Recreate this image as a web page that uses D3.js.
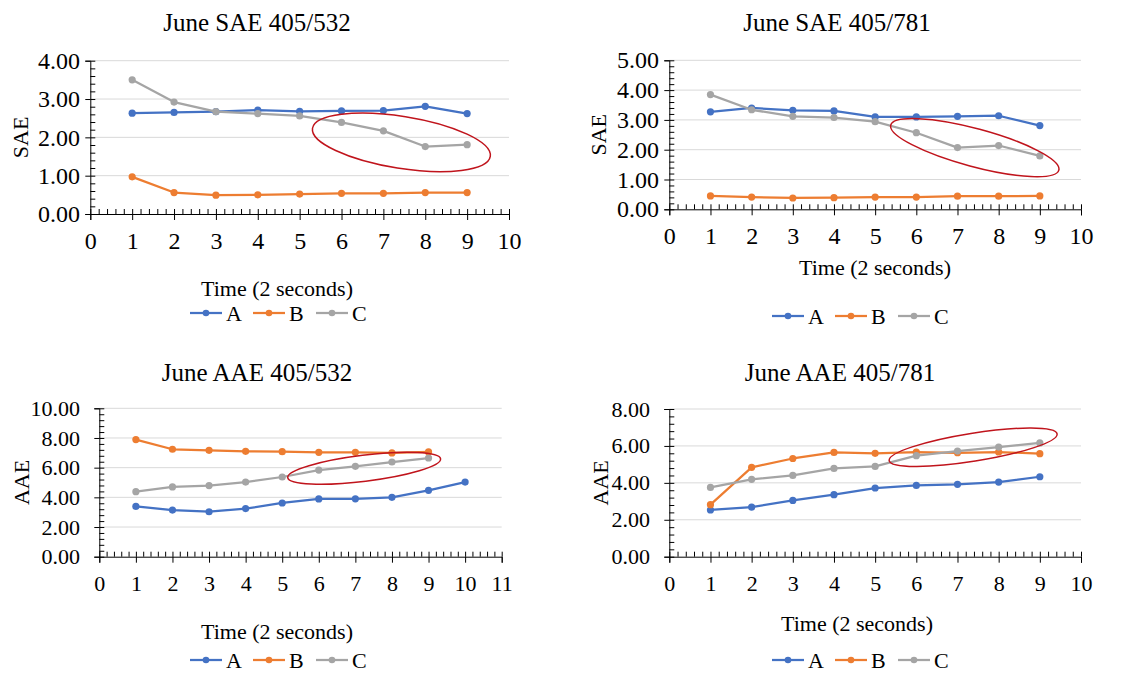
<!DOCTYPE html>
<html><head><meta charset="utf-8">
<script src="https://cdn.jsdelivr.net/npm/d3@7"></script>
<style>
html,body{margin:0;padding:0;background:#fff;}
svg{display:block;}
svg text{font-family:"Liberation Serif","Times New Roman",serif !important;fill:#000;}
</style></head>
<body>
<svg id="chart" width="1131" height="673"></svg>
<script>
// ---------- DATA ----------
const timeSteps = [1, 2, 3, 4, 5, 6, 7, 8, 9];
const timeSteps10 = [1, 2, 3, 4, 5, 6, 7, 8, 9, 10];
const seriesNames = ["A", "B", "C"];
const seriesColors = ["#4472C4", "#ED7D31", "#A5A5A5"];

const sae532A = [2.63, 2.65, 2.67, 2.71, 2.68, 2.69, 2.70, 2.81, 2.62];
const sae532B = [0.97, 0.56, 0.49, 0.50, 0.52, 0.54, 0.54, 0.56, 0.56];
const sae532C = [3.50, 2.92, 2.67, 2.62, 2.56, 2.39, 2.17, 1.76, 1.81];

const sae781A = [3.27, 3.40, 3.32, 3.30, 3.10, 3.10, 3.12, 3.14, 2.81];
const sae781B = [0.45, 0.41, 0.38, 0.39, 0.41, 0.41, 0.44, 0.44, 0.45];
const sae781C = [3.85, 3.34, 3.12, 3.08, 2.94, 2.57, 2.07, 2.14, 1.79];

const aae532A = [3.39, 3.14, 3.03, 3.24, 3.62, 3.89, 3.90, 4.00, 4.47, 5.03];
const aae532B = [7.89, 7.24, 7.17, 7.10, 7.08, 7.03, 7.03, 6.99, 7.06];
const aae532C = [4.38, 4.70, 4.79, 5.03, 5.37, 5.84, 6.09, 6.38, 6.65];

const aae781A = [2.53, 2.69, 3.05, 3.36, 3.72, 3.86, 3.92, 4.04, 4.33];
const aae781B = [2.82, 4.84, 5.32, 5.65, 5.60, 5.67, 5.63, 5.67, 5.58];
const aae781C = [3.75, 4.19, 4.40, 4.78, 4.89, 5.47, 5.72, 5.94, 6.16];

const chartTitles = ["June SAE 405/532", "June SAE 405/781", "June AAE 405/532", "June AAE 405/781"];
const yTitles = ["SAE", "SAE", "AAE", "AAE"];
const xTitle = "Time (2 seconds)";
const xMaxes = [10, 10, 11, 10];
const yMaxes = [4, 5, 10, 8];
const yMajorSteps = [1, 1, 2, 2];
// highlight ellipses: centre in data units
const ellipseCenters = [[7.43, 1.87], [7.42, 2.07], [7.24, 5.96], [7.38, 5.93]];

// ---------- LAYOUT ----------
const FONT = '"Liberation Serif","Times New Roman",serif';
const layouts = [
  {left: 90.3, right: 509, top: 60.7, bottom: 214, tickFont: 24, yLabRight: 80, titleX: 257, titleY: 31,
   xTitleX: 277, xTitleY: 288, yTitleX: 20, legX: 190, legY: 313, ell: {rx: 90, ry: 26, rot: 9}},
  {left: 669.3, right: 1081, top: 60.3, bottom: 209.3, tickFont: 24, yLabRight: 659, titleX: 837, titleY: 31,
   xTitleX: 875, xTitleY: 267, yTitleX: 598.5, legX: 772, legY: 316, ell: {rx: 87, ry: 19, rot: 15}},
  {left: 99.3, right: 501.7, top: 408.3, bottom: 556.7, tickFont: 22, yLabRight: 80, titleX: 257, titleY: 381,
   xTitleX: 277, xTitleY: 631.7, yTitleX: 21, legX: 190, legY: 660, ell: {rx: 77, ry: 13, rot: -7}},
  {left: 669.3, right: 1081, top: 409, bottom: 556.7, tickFont: 22, yLabRight: 650, titleX: 840, titleY: 381,
   xTitleX: 857, xTitleY: 623, yTitleX: 600.5, legX: 772, legY: 660, ell: {rx: 85, ry: 14, rot: -9}}
];

const panelSeries = [
  [{x: timeSteps, y: sae532A}, {x: timeSteps, y: sae532B}, {x: timeSteps, y: sae532C}],
  [{x: timeSteps, y: sae781A}, {x: timeSteps, y: sae781B}, {x: timeSteps, y: sae781C}],
  [{x: timeSteps10, y: aae532A}, {x: timeSteps, y: aae532B}, {x: timeSteps, y: aae532C}],
  [{x: timeSteps, y: aae781A}, {x: timeSteps, y: aae781B}, {x: timeSteps, y: aae781C}]
];

const svg = d3.select("#chart");
svg.append("rect").attr("width", 1131).attr("height", 673).attr("fill", "#fff");

function round(v) { return Math.round(v * 1000) / 1000; }

layouts.forEach((L, i) => {
  const g = svg.append("g").attr("font-family", FONT);
  const x = d3.scaleLinear().domain([0, xMaxes[i]]).range([L.left, L.right]);
  const y = d3.scaleLinear().domain([0, yMaxes[i]]).range([L.bottom, L.top]);
  const yMajor = d3.range(0, yMaxes[i] + 1e-9, yMajorSteps[i]);
  const yMinor = d3.range(0, yMaxes[i] + 1e-9, yMajorSteps[i] / 5).map(round);
  const xMajor = d3.range(0, xMaxes[i] + 1e-9, 1);
  const xMinor = d3.range(0, xMaxes[i] + 1e-9, 0.2).map(round);

  // gridlines
  g.append("g").selectAll("line").data(yMajor.filter(v => v > 0)).join("line")
    .attr("x1", L.left).attr("x2", L.right)
    .attr("y1", d => y(d)).attr("y2", d => y(d))
    .attr("stroke", "#D9D9D9").attr("stroke-width", 1);

  // y axis: major ticks outside with labels
  const yAxis = d3.axisLeft(y).tickValues(yMajor).tickSize(5)
    .tickPadding(L.left - L.yLabRight - 5).tickFormat(d3.format(".2f"));
  const ya = g.append("g").attr("transform", `translate(${L.left},0)`).call(yAxis)
    .attr("font-family", FONT).attr("font-size", L.tickFont);
  ya.selectAll("text").attr("fill", "#000");
  ya.selectAll("line,path").attr("stroke", "#000");
  // y minor ticks inside
  const yMinAxis = d3.axisRight(y).tickValues(yMinor).tickSize(5).tickFormat("");
  const ym = g.append("g").attr("transform", `translate(${L.left},0)`).call(yMinAxis);
  ym.select("path").remove();
  ym.selectAll("line").attr("stroke", "#000");

  // x axis
  const xAxis = d3.axisBottom(x).tickValues(xMajor).tickSize(6)
    .tickPadding(27 - 6 - 0.38 * L.tickFont).tickFormat(d3.format("d"));
  const xa = g.append("g").attr("transform", `translate(0,${L.bottom})`).call(xAxis)
    .attr("font-family", FONT).attr("font-size", L.tickFont);
  xa.selectAll("text").attr("fill", "#000");
  xa.selectAll("line,path").attr("stroke", "#000");
  const xMinAxis = d3.axisTop(x).tickValues(xMinor).tickSize(5).tickFormat("");
  const xm = g.append("g").attr("transform", `translate(0,${L.bottom})`).call(xMinAxis);
  xm.select("path").remove();
  xm.selectAll("line").attr("stroke", "#000");

  // series
  panelSeries[i].forEach((s, k) => {
    const pts = s.x.map((xv, j) => [xv, s.y[j]]);
    g.append("path").datum(pts)
      .attr("d", d3.line().x(d => x(d[0])).y(d => y(d[1])))
      .attr("fill", "none").attr("stroke", seriesColors[k])
      .attr("stroke-width", 2.25).attr("stroke-linejoin", "round").attr("stroke-linecap", "round");
    g.append("g").selectAll("circle").data(pts).join("circle")
      .attr("cx", d => x(d[0])).attr("cy", d => y(d[1])).attr("r", 3.6)
      .attr("fill", seriesColors[k]);
  });

  // highlight ellipse
  const c = ellipseCenters[i];
  g.append("ellipse")
    .attr("transform", `translate(${x(c[0])},${y(c[1])}) rotate(${L.ell.rot})`)
    .attr("rx", L.ell.rx).attr("ry", L.ell.ry)
    .attr("fill", "none").attr("stroke", "#C0141C").attr("stroke-width", 1.5);

  // titles
  g.append("text").attr("x", L.titleX).attr("y", L.titleY).attr("text-anchor", "middle")
    .attr("font-size", 25).text(chartTitles[i]);
  g.append("text").attr("x", L.xTitleX).attr("y", L.xTitleY).attr("dy", "0.35em").attr("text-anchor", "middle")
    .attr("font-size", 22).text(xTitle);
  g.append("text").attr("transform", `translate(${L.yTitleX},${(L.top + L.bottom) / 2}) rotate(-90)`)
    .attr("dy", "0.35em").attr("text-anchor", "middle").attr("font-size", 22).text(yTitles[i]);

  // legend
  const leg = g.append("g").attr("transform", `translate(${L.legX},${L.legY})`);
  seriesNames.forEach((n, k) => {
    const e = leg.append("g").attr("transform", `translate(${k * 63},0)`);
    e.append("line").attr("x1", 0).attr("x2", 32).attr("y1", 0).attr("y2", 0)
      .attr("stroke", seriesColors[k]).attr("stroke-width", 2.25);
    e.append("circle").attr("cx", 16).attr("cy", 0).attr("r", 3.3).attr("fill", seriesColors[k]);
    e.append("text").attr("x", 36).attr("y", 0).attr("dy", "0.35em").attr("font-size", 22).text(n);
  });
});
</script>
</body></html>
